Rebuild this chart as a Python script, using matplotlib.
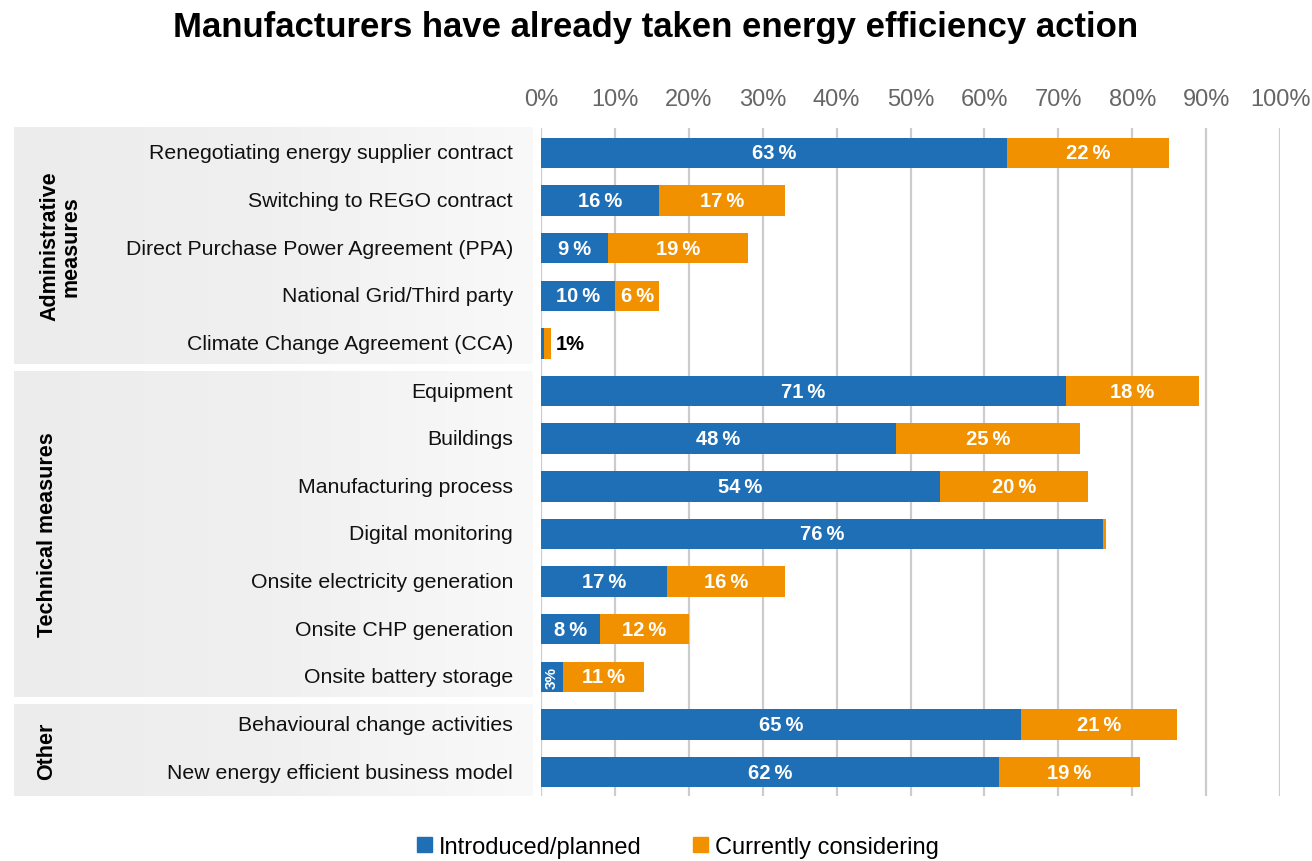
import numpy as np
import matplotlib.pyplot as plt
from matplotlib.patches import Patch
from matplotlib.colors import LinearSegmentedColormap

plt.rcParams['font.family'] = ['Liberation Sans', 'DejaVu Sans']

categories = [
    "Renegotiating energy supplier contract",
    "Switching to REGO contract",
    "Direct Purchase Power Agreement (PPA)",
    "National Grid/Third party",
    "Climate Change Agreement (CCA)",
    "Equipment",
    "Buildings",
    "Manufacturing process",
    "Digital monitoring",
    "Onsite electricity generation",
    "Onsite CHP generation",
    "Onsite battery storage",
    "Behavioural change activities",
    "New energy efficient business model",
]
introduced = [63, 16, 9, 10, 0.4, 71, 48, 54, 76, 17, 8, 3, 65, 62]
considering = [22, 17, 19, 6, 1, 18, 25, 20, 0.4, 16, 12, 11, 21, 19]

groups = ["Administrative\nmeasures", "Technical measures", "Other"]
group_sizes = [5, 7, 2]
group_label_x = [60, 48, 47]

BLUE = "#1f6fb7"
ORANGE = "#f29100"

fig = plt.figure(figsize=(13.12, 8.62), dpi=100)
W, H = 1312, 862

# axes box in pixels
x0, x1 = 541, 1280
top, bot = 129, 797
ax = fig.add_axes([x0 / W, 1 - bot / H, (x1 - x0) / W, (bot - top) / H])

n = len(categories)
y = np.arange(n)
ax.set_ylim(n - 0.496, -0.525)
ax.set_xlim(0, 100)

ax.barh(y, introduced, height=0.64, color=BLUE, zorder=3)
ax.barh(y, considering, left=introduced, height=0.64, color=ORANGE, zorder=3)

for i in range(n):
    a, b = introduced[i], considering[i]
    if a >= 5:
        ax.text(a / 2, i, f"{a:g}\u2009%", ha="center", va="center", color="white",
                fontsize=14.5, fontweight="bold", zorder=4)
    elif a >= 2:
        ax.text(a / 2, i, f"{a:g}%", ha="center", va="center", color="white",
                fontsize=11, fontweight="bold", rotation=90, zorder=4)
    if b >= 3:
        ax.text(a + b / 2, i, f"{b:g}\u2009%", ha="center", va="center", color="white",
                fontsize=14.5, fontweight="bold", zorder=4)
    elif i == 4:
        ax.text(a + b + 0.6, i, f"{b:g}%", ha="left", va="center", color="black",
                fontsize=14.5, fontweight="bold", zorder=4)

ax.set_xticks(np.arange(0, 101, 10))
ax.set_xticklabels([f"{v}%" for v in range(0, 101, 10)])
ax.xaxis.tick_top()
ax.tick_params(axis="x", length=0, pad=13, labelsize=17, labelcolor="#666666")
ax.set_yticks([])
ax.grid(axis="x", color="#cccccc", linewidth=1.6, zorder=0)
for s in ax.spines.values():
    s.set_visible(False)

# category labels
for i, c in enumerate(categories):
    ax.text(-3.8, i, c, ha="right", va="center", fontsize=15.3, color="#111111",
            clip_on=False)

# group panels with a soft horizontal fade
fade = LinearSegmentedColormap.from_list("fade", ["#ececec", "#f0f0f0", "#f9f9f9"])
to_fig = fig.transFigure.inverted()
grad = np.linspace(0, 1, 256)[None, :]
px0, px1 = 14 / W, 533 / W
start = 0
for k, (g, size) in enumerate(zip(groups, group_sizes)):
    y_top = start - 0.5 + (0.075 if k > 0 else -0.045)
    y_bot = start + size - 0.5 - (0.075 if k < len(groups) - 1 else 0.0)
    ft = to_fig.transform(ax.transData.transform((0, y_top)))[1]
    fb = to_fig.transform(ax.transData.transform((0, y_bot)))[1]
    pa = fig.add_axes([px0, fb, px1 - px0, ft - fb], zorder=-1)
    pa.imshow(grad, aspect="auto", cmap=fade, extent=[0, 1, 0, 1])
    pa.axis("off")
    fig.text(group_label_x[k] / W, (ft + fb) / 2, g, rotation=90, ha="center", va="center",
             fontsize=15.5, fontweight="bold", multialignment="center", linespacing=1.0)
    start += size

fig.text(0.5, 1 - 28 / H, "Manufacturers have already taken energy efficiency action",
         ha="center", va="center", fontsize=25, fontweight="bold")

handles = [Patch(color=BLUE, label="Introduced/planned"),
           Patch(color=ORANGE, label="Currently considering")]
fig.legend(handles=handles, loc="center", bbox_to_anchor=(678 / W, 1 - 848 / H), ncol=2,
           frameon=False, fontsize=17, handlelength=0.6, handleheight=0.6,
           handletextpad=0.3, columnspacing=2.2)

fig.savefig("out.png", dpi=100)
